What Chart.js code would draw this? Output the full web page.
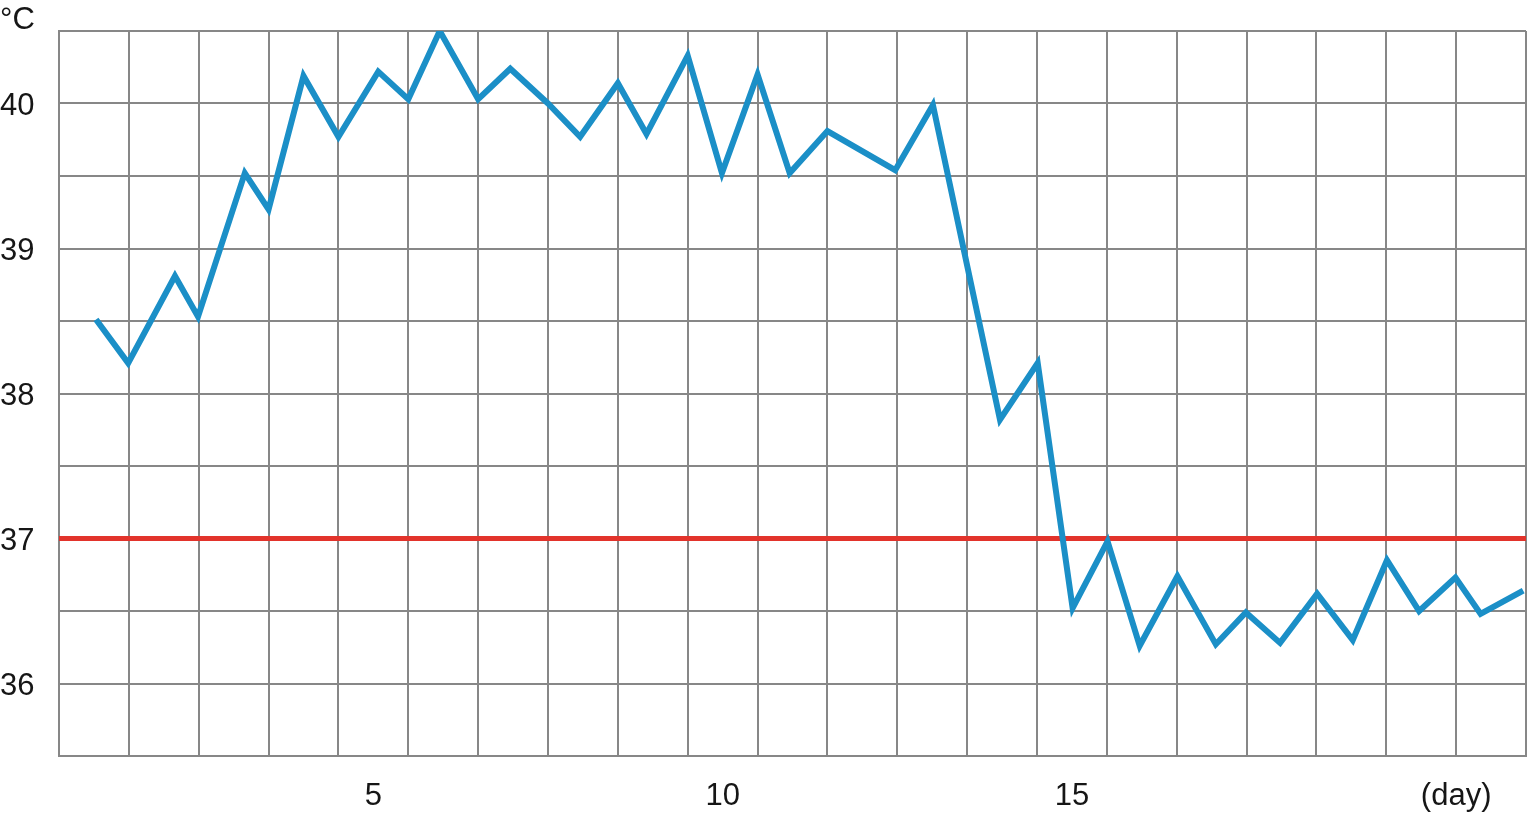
<!DOCTYPE html>
<html>
<head>
<meta charset="utf-8">
<script src="https://cdn.jsdelivr.net/npm/chart.js@4/dist/chart.umd.min.js"></script>
<style>
  html, body { margin: 0; padding: 0; background: #fff; }
  #wrap { width: 1529px; height: 813px; }
</style>
</head>
<body>
<div id="wrap"><canvas id="chartTemp"></canvas></div>
<script>
// readings, two per day (x in days)
const days = [1.03, 1.49, 2.16, 2.49, 3.16, 3.5, 4.0, 4.5, 5.07, 5.5,
	5.95, 6.5, 6.96, 7.5, 7.96, 8.5, 8.91, 9.5, 9.99, 10.5,
	10.96, 11.5, 12.47, 13.01, 13.97, 14.51, 15.01, 15.51, 15.97, 16.51,
	17.06, 17.49, 17.98, 18.51, 19.02, 19.51, 19.97, 20.49, 20.85, 21.46];
const temps = [38.51, 38.21, 38.81, 38.53, 39.52, 39.27, 40.19, 39.77, 40.22, 40.03,
	40.5, 40.03, 40.24, 40.0, 39.77, 40.14, 39.79, 40.33, 39.52, 40.2,
	39.52, 39.81, 39.54, 39.99, 37.82, 38.21, 36.52, 36.98, 36.26, 36.74,
	36.27, 36.49, 36.28, 36.62, 36.3, 36.85, 36.5, 36.73, 36.48, 36.64];

// reference line
const normalTemp = 37;
const dayRange = [0.5, 21.5];
const tempRange = [35.5, 40.5];

// tick labels
const dayLabels = { 5: "5", 10: "10", 15: "15", 20.5: "(day)" };
const tempLabels = { 36: "36", 37: "37", 38: "38", 39: "39", 40: "40" };
const unitLabel = "°C";

const font = "Liberation Sans, Arial, Helvetica, sans-serif";
const gridColor = "#878787";

const unitPlugin = {
	id: "unitLabel",
	afterDraw(chart) {
		const ctx = chart.ctx;
		const y = chart.scales.y;
		ctx.save();
		ctx.font = "31px " + font;
		ctx.fillStyle = "#161616";
		ctx.textAlign = "left";
		ctx.textBaseline = "middle";
		ctx.fillText(unitLabel, 0, y.top - 11);
		ctx.restore();
	},
};

const ctxTemp = document.getElementById("chartTemp");
new Chart(ctxTemp, {
	type: "line",
	data: {
		datasets: [
			{
				label: "Temperature",
				data: days.map((d, i) => ({ x: d, y: temps[i] })),
				borderColor: "#1b8fc7",
				borderWidth: 6,
				borderJoinStyle: "miter",
				pointRadius: 0,
				tension: 0,
				order: 0,
			},
			{
				label: "Normal",
				data: dayRange.map((d) => ({ x: d, y: normalTemp })),
				borderColor: "#e2332b",
				borderWidth: 5,
				pointRadius: 0,
				order: 1,
			},
		],
	},
	options: {
		responsive: true,
		maintainAspectRatio: false,
		animation: false,
		layout: { padding: { top: 31, right: 3, bottom: 0, left: 0 } },
		plugins: { legend: { display: false }, tooltip: { enabled: false } },
		scales: {
			x: {
				type: "linear",
				min: dayRange[0],
				max: dayRange[1],
				afterBuildTicks: (scale) => {
					const t = [];
					for (let v = dayRange[0]; v <= dayRange[1] + 0.001; v += 0.5) t.push({ value: v });
					scale.ticks = t;
				},
				afterFit: (scale) => { scale.height = 57; },
				grid: {
					color: (c) => (c.tick && c.tick.value % 1 !== 0 ? gridColor : "rgba(0,0,0,0)"),
					lineWidth: 2,
					drawTicks: true,
					tickLength: 22,
					tickColor: "rgba(0,0,0,0)",
				},
				border: { color: gridColor, width: 2 },
				ticks: {
					autoSkip: false,
					maxRotation: 0,
					padding: 0,
					color: "#161616",
					font: { size: 31, family: font },
					callback: (v) => dayLabels[v] || "",
				},
			},
			y: {
				min: tempRange[0],
				max: tempRange[1],
				afterFit: (scale) => { scale.width = 59; },
				grid: { color: gridColor, lineWidth: 2, drawTicks: false },
				border: { color: gridColor, width: 2 },
				ticks: {
					stepSize: 0.5,
					crossAlign: "far",
					padding: 0,
					labelOffset: 3,
					color: "#161616",
					font: { size: 31, family: font },
					callback: (v) => tempLabels[v] || "",
				},
			},
		},
	},
	plugins: [unitPlugin],
});
</script>
</body>
</html>
